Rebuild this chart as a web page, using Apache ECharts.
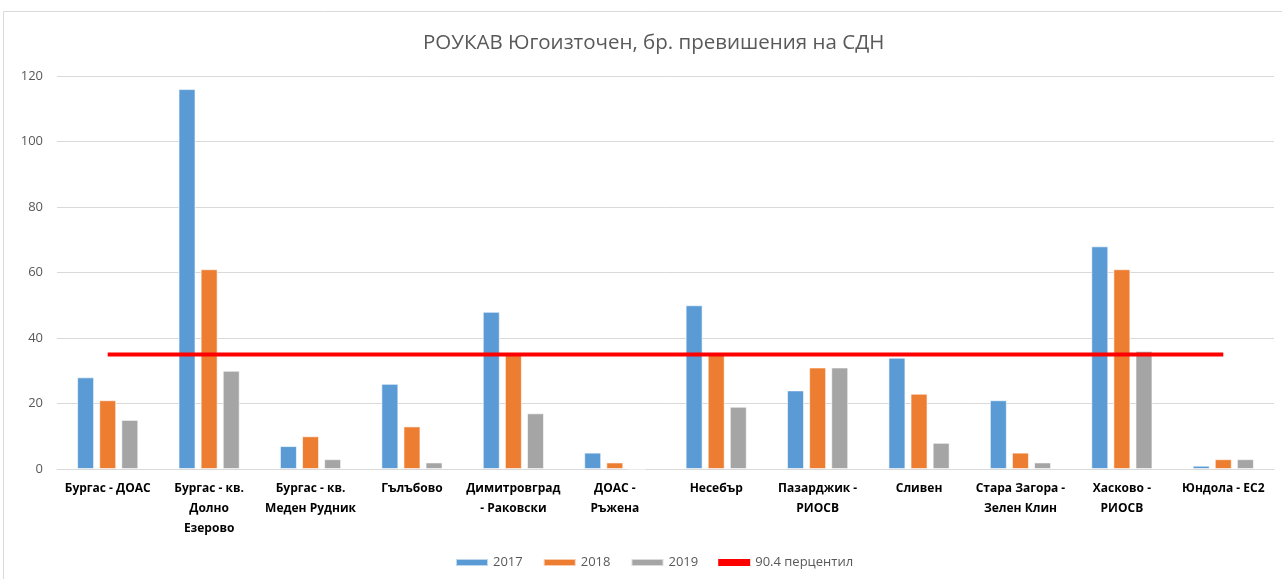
<!DOCTYPE html>
<html><head><meta charset="utf-8">
<script src="https://cdn.jsdelivr.net/npm/echarts@6/dist/echarts.min.js"></script>
<style>html,body{margin:0;padding:0;background:#fff}#c{width:1282px;height:579px}</style>
</head><body><div id="c"></div>
<script>
const categories = ["Бургас - ДОАС","Бургас - кв.\nДолно\nЕзерово","Бургас - кв.\nМеден Рудник","Гълъбово","Димитровград\n- Раковски","ДОАС -\nРъжена","Несебър","Пазарджик -\nРИОСВ","Сливен","Стара Загора -\nЗелен Клин","Хасково -\nРИОСВ","Юндола - ЕС2"];
const s2017 = [28,116,7,26,48,5,50,24,34,21,68,1];
const s2018 = [21,61,10,13,35,2,35,31,23,5,61,3];
const s2019 = [15,30,3,2,17,0,19,31,8,2,36,3];
const percentile = [35,35,35,35,35,35,35,35,35,35,35,35];
const seriesNames = ["2017","2018","2019","90.4 перцентил"];
const yTicks = {min:0,max:120,interval:20};

const font = "'Open Sans', 'Noto Sans', sans-serif";
const chart = echarts.init(document.getElementById('c'));
const barStyle = c => ({color:c, borderColor:'rgba(255,255,255,0.6)', borderWidth:1});
chart.setOption({
  animation:false,
  textStyle:{fontFamily:font},
  graphic:[{type:'rect',shape:{x:3.5,y:11.5,width:1300,height:600},style:{fill:'none',stroke:'#d9d9d9',lineWidth:1},silent:true,z:-1}],
  title:{text:'РОУКАВ Югоизточен, бр. превишения на СДН',left:418,top:28,textStyle:{fontFamily:font,fontSize:20.5,fontWeight:'normal',color:'#595959'}},
  grid:{left:57,right:8,top:76,bottom:110},
  legend:{bottom:5,left:450,itemWidth:32,itemHeight:7,itemGap:20,textStyle:{fontFamily:font,fontSize:13,color:'#595959'},
    data:[{name:'2017',icon:'rect'},{name:'2018',icon:'rect'},{name:'2019',icon:'rect'},{name:'90.4 перцентил',icon:'rect'}]},
  xAxis:{type:'category',data:categories,axisTick:{show:false},axisLine:{lineStyle:{color:'#d9d9d9',width:1}},
    axisLabel:{interval:0,color:'#000',fontWeight:'bold',fontSize:12,lineHeight:20,margin:10,fontFamily:font}},
  yAxis:{type:'value',min:yTicks.min,max:yTicks.max,interval:yTicks.interval,axisLine:{show:false},axisTick:{show:false},
    axisLabel:{color:'#595959',fontSize:13,margin:14,fontFamily:font},splitLine:{lineStyle:{color:'#d9d9d9',width:1}}},
  series:[
    {name:seriesNames[0],type:'bar',data:s2017,barWidth:17,barGap:'30%',itemStyle:barStyle('#5B9BD5')},
    {name:seriesNames[1],type:'bar',data:s2018,barWidth:17,barGap:'30%',itemStyle:barStyle('#ED7D31')},
    {name:seriesNames[2],type:'bar',data:s2019,barWidth:17,barGap:'30%',itemStyle:barStyle('#A5A5A5')},
    {name:seriesNames[3],type:'line',data:percentile,symbol:'none',z:10,lineStyle:{color:'#FF0000',width:4},itemStyle:{color:'#FF0000'}}
  ]
});
</script></body></html>
